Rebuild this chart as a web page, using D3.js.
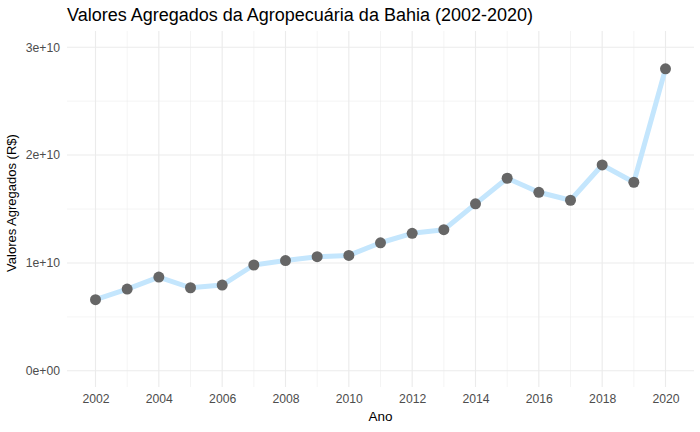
<!DOCTYPE html>
<html>
<head>
<meta charset="utf-8">
<script src="https://cdn.jsdelivr.net/npm/d3@7"></script>
<style>
  body { margin: 0; background: #fff; }
  svg { font-family: "Liberation Sans", Arial, sans-serif; }
</style>
</head>
<body>
<div id="vis1"></div>
<script>
// Data
const ANOS = [2002, 2003, 2004, 2005, 2006, 2007, 2008, 2009, 2010, 2011,
              2012, 2013, 2014, 2015, 2016, 2017, 2018, 2019, 2020];
const VALORES = [6.59e9, 7.58e9, 8.69e9, 7.70e9, 7.95e9, 9.81e9, 10.22e9, 10.58e9, 10.70e9, 11.87e9,
                 12.75e9, 13.08e9, 15.48e9, 17.85e9, 16.55e9, 15.81e9, 19.08e9, 17.48e9, 27.99e9];
const X_TICKS = [2002, 2004, 2006, 2008, 2010, 2012, 2014, 2016, 2018, 2020];
const Y_TICKS = [0, 1e10, 2e10, 3e10];
const Y_TICK_LABELS = ["0e+00", "1e+10", "2e+10", "3e+10"];

const FRAME_WIDTH = 700;
const FRAME_HEIGHT = 432;
const MARGINS = {left: 67, right: 6, top: 31, bottom: 45};

const FRAME1 = d3.select("#vis1")
                 .append("svg")
                 .attr("width", FRAME_WIDTH)
                 .attr("height", FRAME_HEIGHT);

// scales with ggplot-like 5% expansion
const xPad = (2020 - 2002) * 0.05;
const yPad = 3e10 * 0.05;
const X_SCALE = d3.scaleLinear()
                  .domain([2002 - xPad, 2020 + xPad])
                  .range([MARGINS.left, FRAME_WIDTH - MARGINS.right]);
const Y_SCALE = d3.scaleLinear()
                  .domain([0 - yPad, 3e10 + yPad])
                  .range([FRAME_HEIGHT - MARGINS.bottom, MARGINS.top]);

// minor grid lines
const xMinor = d3.range(2003, 2020, 2);
const yMinor = [0.5e10, 1.5e10, 2.5e10];
const grid = FRAME1.append("g").attr("stroke", "#ebebeb");
grid.selectAll(".xminor").data(xMinor).enter().append("line")
    .attr("x1", d => X_SCALE(d)).attr("x2", d => X_SCALE(d))
    .attr("y1", Y_SCALE.range()[1]).attr("y2", Y_SCALE.range()[0])
    .attr("stroke-width", 0.55);
grid.selectAll(".yminor").data(yMinor).enter().append("line")
    .attr("x1", X_SCALE.range()[0]).attr("x2", X_SCALE.range()[1])
    .attr("y1", d => Y_SCALE(d)).attr("y2", d => Y_SCALE(d))
    .attr("stroke-width", 0.55);
// major grid lines
grid.selectAll(".xmajor").data(X_TICKS).enter().append("line")
    .attr("x1", d => X_SCALE(d)).attr("x2", d => X_SCALE(d))
    .attr("y1", Y_SCALE.range()[1]).attr("y2", Y_SCALE.range()[0])
    .attr("stroke-width", 1.1);
grid.selectAll(".ymajor").data(Y_TICKS).enter().append("line")
    .attr("x1", X_SCALE.range()[0]).attr("x2", X_SCALE.range()[1])
    .attr("y1", d => Y_SCALE(d)).attr("y2", d => Y_SCALE(d))
    .attr("stroke-width", 1.1);

// X axis
const xAxis = FRAME1.append("g")
    .attr("transform", "translate(0," + (FRAME_HEIGHT - MARGINS.bottom) + ")")
    .call(d3.axisBottom(X_SCALE).tickValues(X_TICKS).tickFormat(d3.format("d")).tickSize(0).tickPadding(7));
xAxis.select(".domain").remove();
xAxis.selectAll("text").attr("font-size", "12.2px").attr("fill", "#4d4d4d")
     .attr("font-family", "Liberation Sans, Arial, sans-serif");

// Y axis
const yAxis = FRAME1.append("g")
    .attr("transform", "translate(" + MARGINS.left + ",0)")
    .call(d3.axisLeft(Y_SCALE).tickValues(Y_TICKS).tickFormat((d, i) => Y_TICK_LABELS[i]).tickSize(0).tickPadding(7));
yAxis.select(".domain").remove();
yAxis.selectAll("text").attr("font-size", "12.2px").attr("fill", "#4d4d4d")
     .attr("font-family", "Liberation Sans, Arial, sans-serif");

// line
const line = d3.line().x((d, i) => X_SCALE(ANOS[i])).y(d => Y_SCALE(d));
FRAME1.append("path")
      .datum(VALORES)
      .attr("d", line)
      .attr("fill", "none")
      .attr("stroke", "#c4e6fd")
      .attr("stroke-width", 5)
      .attr("stroke-linejoin", "round");

// points
FRAME1.selectAll(".pt").data(VALORES).enter().append("circle")
      .attr("cx", (d, i) => X_SCALE(ANOS[i]))
      .attr("cy", d => Y_SCALE(d))
      .attr("r", 5.5)
      .attr("fill", "#666666");

// titles
FRAME1.append("text")
      .attr("x", MARGINS.left).attr("y", 21)
      .attr("font-size", "18px").attr("fill", "#000")
      .text("Valores Agregados da Agropecuária da Bahia (2002-2020)");
FRAME1.append("text")
      .attr("x", (X_SCALE.range()[0] + X_SCALE.range()[1]) / 2).attr("y", 421)
      .attr("text-anchor", "middle")
      .attr("font-size", "13.5px").attr("fill", "#000")
      .text("Ano");
FRAME1.append("text")
      .attr("transform", "translate(16,203) rotate(-90)")
      .attr("text-anchor", "middle")
      .attr("font-size", "13px").attr("fill", "#000")
      .text("Valores Agregados (R$)");
</script>
</body>
</html>
